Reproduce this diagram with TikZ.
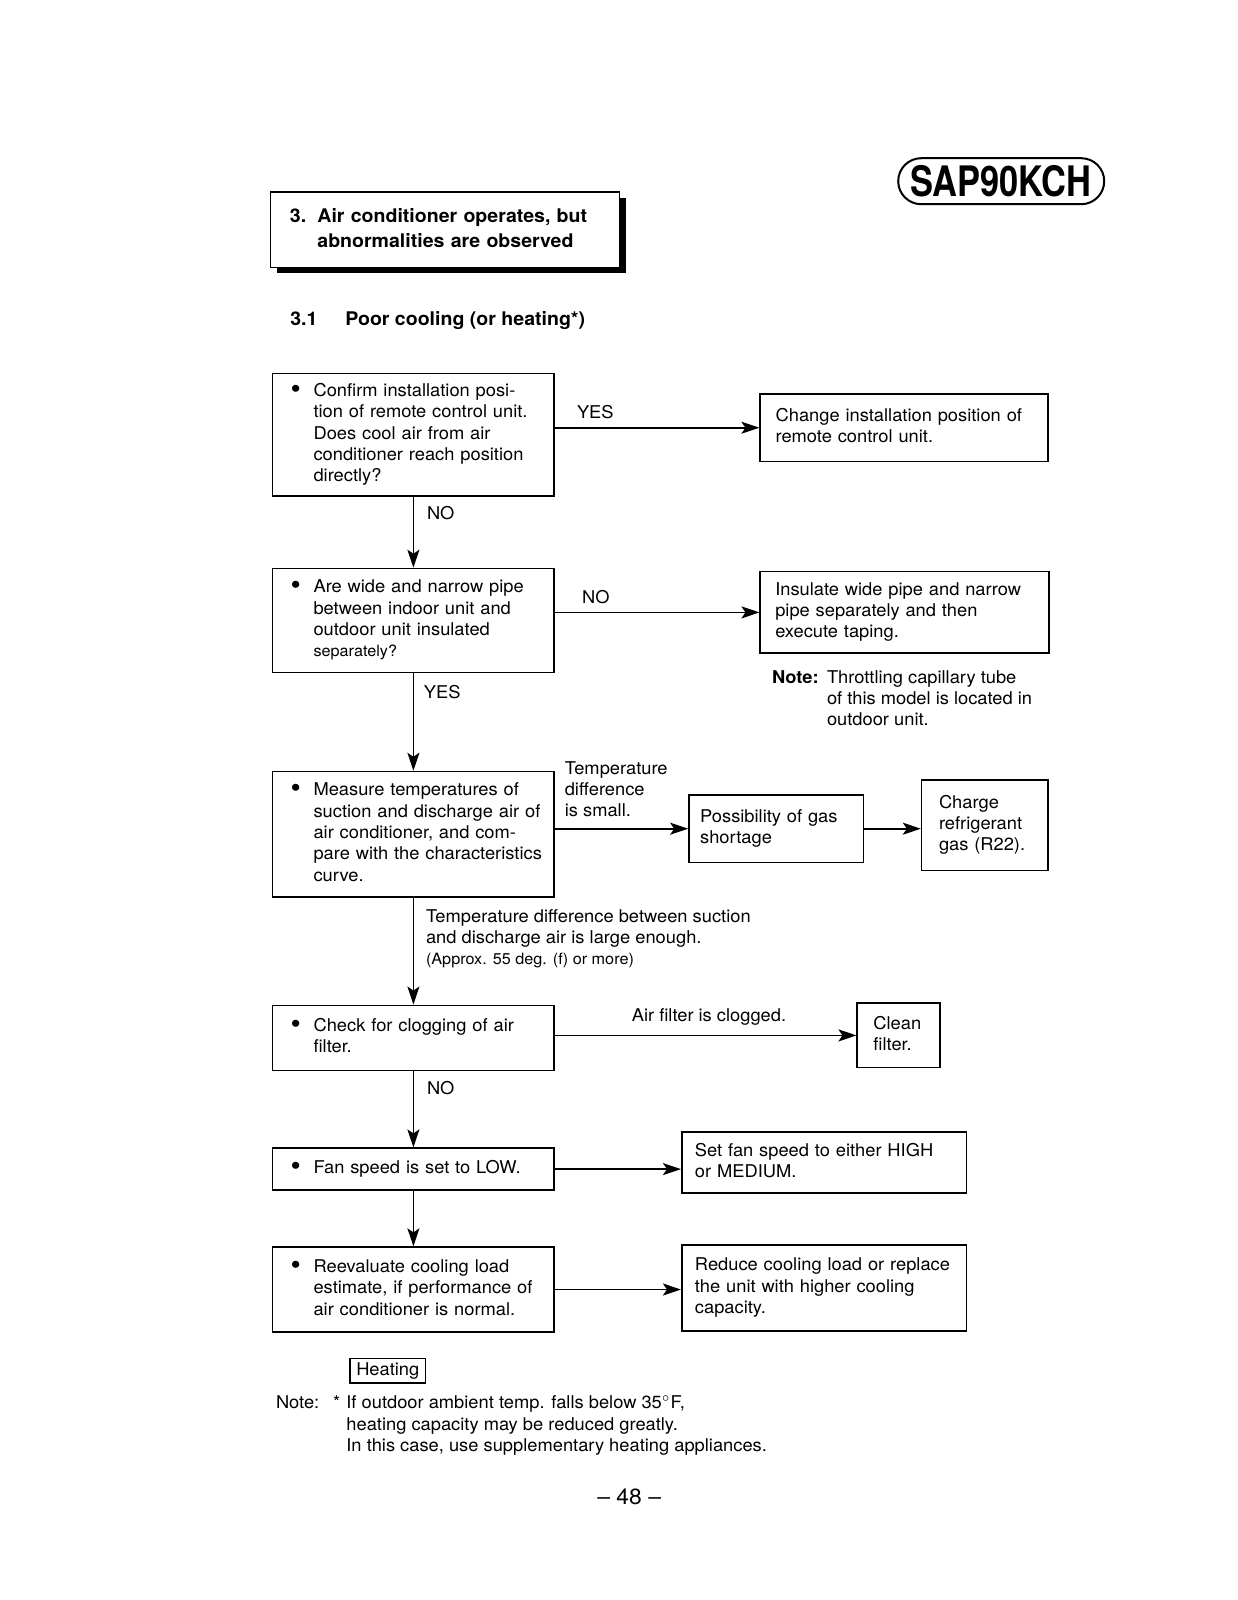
\documentclass[tikz,border=0pt]{standalone}
\usepackage{fontspec}
\setmainfont{TeX Gyre Heros}[FakeStretch=1.04]
\newfontfamily\sapfont{TeX Gyre Heros}[FakeStretch=0.82]
\usetikzlibrary{arrows.meta,shadows}
% stacked lines, first baseline on top
\newcommand\rows[1]{\begin{tabular}[t]{@{}l@{}}#1\end{tabular}}
\newcommand\bul[1]{\makebox[11.5pt][l]{\raisebox{-0.9pt}{\scalebox{1.6}{\textbullet}}}\rows{#1}}
\newcommand\lesstext{\fontsize{7.8}{10.65}\selectfont}

\begin{document}
\begin{tikzpicture}[x=0.5pt,y=-0.5pt,
    every node/.style={font=\fontsize{8.8}{10.65}\selectfont},
    qbox/.style={draw,line width=0.8pt,text width=122.85pt,inner xsep=9pt,align=left},
    abox/.style={draw,line width=0.8pt,align=left},
    flow/.style={line width=0.8pt,-{Stealth[length=9pt,width=6pt,inset=2pt]}},
    lbl/.style={anchor=base west,inner sep=0pt}]
  \useasboundingbox (0,0) rectangle (1237,1600);

  % heading
  \node[draw,line width=0.9pt,fill=white,
        drop shadow={shadow xshift=3pt,shadow yshift=-3pt,fill=black,opacity=1},
        minimum height=37.75pt,text width=155.1pt,inner xsep=9.7pt,align=left,
        font=\fontsize{9.4}{12.75}\selectfont\bfseries] (title) at (445,229.65)
        {\rows{\makebox[13.75pt][l]{3.}Air conditioner operates, but\\\hspace{13.75pt}abnormalities are observed}};
  \node[lbl,font=\fontsize{9.4}{12}\selectfont\bfseries] (sub) at (289.9,325.4) {\makebox[27.5pt][l]{3.1}Poor cooling (or heating*)};
  \node[draw,line width=1pt,rounded corners=11.5pt,minimum width=103pt,minimum height=23pt,inner sep=0pt,
        font=\sapfont\fontsize{21}{21}\selectfont\bfseries] (model) at (1001.2,181.2) {SAP90KCH};

  % checks
  \node[qbox,minimum height=61.25pt] (remote) at (413.4,434.8) {\bul{Confirm installation posi-\\tion of remote control unit.\\Does cool air from air\\conditioner reach position\\directly?}};
  \node[qbox,minimum height=52pt] (pipe) at (413.4,620.5) {\bul{Are wide and narrow pipe\\between indoor unit and\\outdoor unit insulated\\{\lesstext separately?}}};
  \node[qbox,minimum height=62.75pt] (temp) at (413.4,834.3) {\bul{Measure temperatures of\\suction and discharge air of\\air conditioner, and com-\\pare with the characteristics\\curve.}};
  \node[qbox,minimum height=32.65pt] (filter) at (413.4,1038) {\bul{Check for clogging of air\\filter.}};
  \node[qbox,minimum height=20.9pt] (fan) at (413.4,1169.1) {\bul{Fan speed is set to LOW.}};
  \node[qbox,minimum height=42.35pt] (load) at (413.4,1289.5) {\bul{Reevaluate cooling load\\estimate, if performance of\\air conditioner is normal.}};

  % remedies
  \node[abox,text width=128.6pt,inner xsep=7.7pt,minimum height=33.65pt] (remoteFix) at (904.2,427.7) {\rows{Change installation position of\\remote control unit.}};
  \node[abox,text width=129.45pt,inner xsep=7.5pt,minimum height=40.8pt] (pipeFix) at (904.7,612.4) {\rows{Insulate wide pipe and narrow\\pipe separately and then\\execute taping.}};
  \node[abox,text width=76.05pt,inner xsep=5.6pt,minimum height=33.7pt] (gas) at (776.2,828.7) {\rows{Possibility of gas\\shortage}};
  \node[abox,text width=45.9pt,inner xsep=8.7pt,minimum height=45.45pt] (charge) at (984.9,825.2) {\rows{Charge\\refrigerant\\gas (R22).}};
  \node[abox,text width=25.15pt,inner xsep=8.1pt,minimum height=32.15pt] (clean) at (898.6,1035.4) {\rows{Clean\\filter.}};
  \node[abox,text width=129.15pt,inner xsep=6.6pt,minimum height=30.65pt] (fanFix) at (824.1,1162.5) {\rows{Set fan speed to either HIGH\\or MEDIUM.}};
  \node[abox,text width=129.15pt,inner xsep=6.6pt,minimum height=42.9pt] (loadFix) at (824.1,1288) {\rows{Reduce cooling load or replace\\the unit with higher cooling\\capacity.}};

  % connectors
  \draw[flow] (remote.east |- remoteFix.west) -- (remoteFix.west);
  \draw[flow] (pipe.east |- pipeFix.west) -- (pipeFix.west);
  \draw[flow] (temp.east |- gas.west) -- (gas.west);
  \draw[flow] (gas.east) -- (gas.east -| charge.west);
  \draw[flow] (filter.east |- clean.west) -- (clean.west);
  \draw[flow] (fan.east) -- (fan.east -| fanFix.west);
  \draw[flow] (load.east) -- (load.east -| loadFix.west);
  \draw[flow] (remote.south) -- (pipe.north);
  \draw[flow] (pipe.south) -- (temp.north);
  \draw[flow] (temp.south) -- (filter.north);
  \draw[flow] (filter.south) -- (fan.north);
  \draw[flow] (fan.south) -- (load.north);

  % labels
  \node[lbl] (yesA) at (576.6,418.8) {YES};
  \node[lbl] (noA) at (426.6,519.9) {NO};
  \node[lbl] (noB) at (581.7,603.5) {NO};
  \node[lbl] (yesB) at (423.5,698.5) {YES};
  \node[lbl] (small) at (564.4,774) {\rows{Temperature\\difference\\is small.}};
  \node[lbl] (large) at (425.6,922) {\rows{Temperature difference between suction\\and discharge air is large enough.\\{\lesstext (Approx. 55 deg. (f) or more)}}};
  \node[anchor=base,inner sep=0pt] (clogged) at (709,1021) {Air filter is clogged.};
  \node[lbl] (noC) at (426.6,1094.5) {NO};
  \node[lbl] (note) at (771.6,683.2) {\makebox[27.5pt][l]{\bfseries Note:}\rows{Throttling capillary tube\\of this model is located in\\outdoor unit.}};

  % foot
  \node[draw,line width=0.7pt,minimum width=37.8pt,minimum height=12.25pt,inner sep=1pt] (heat) at (387.8,1370.7) {Heating};
  \node[lbl] (footnote) at (275.6,1408.8) {\makebox[28.5pt][l]{Note:}\makebox[6.7pt][l]{*}\rows{If outdoor ambient temp. falls below 35$^\circ$F,\\heating capacity may be reduced greatly.\\In this case, use supplementary heating appliances.}};
  \node[anchor=base,inner sep=0pt,font=\fontsize{11}{13}\selectfont] (page) at (629.2,1504) {-- 48 --};
\end{tikzpicture}
\end{document}
